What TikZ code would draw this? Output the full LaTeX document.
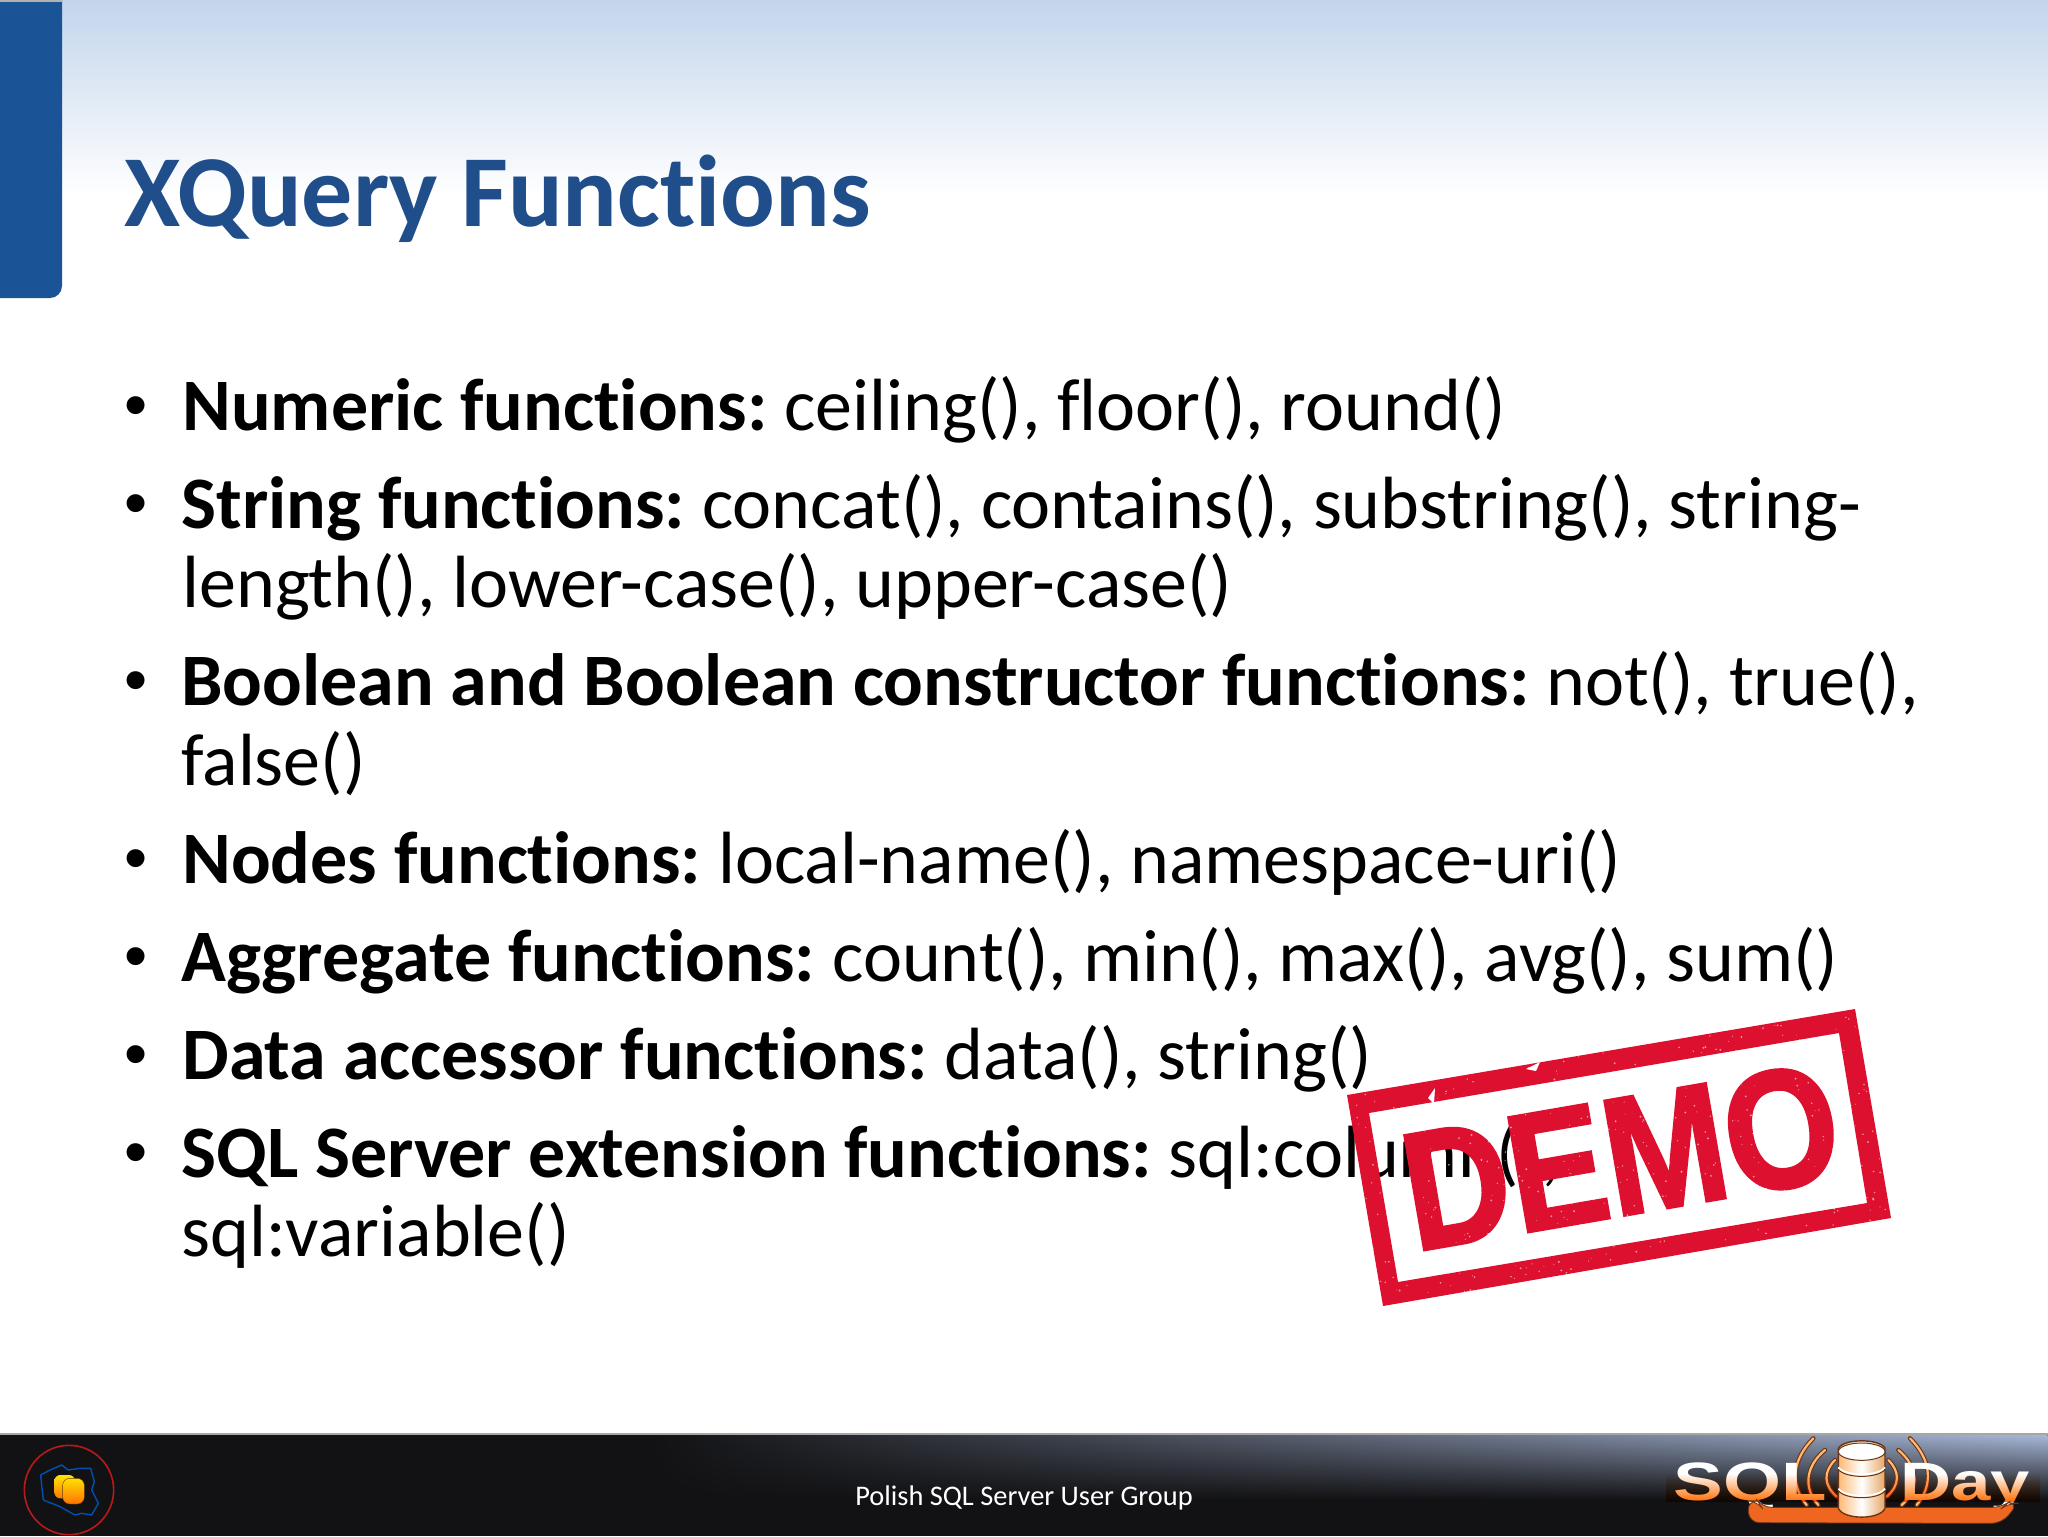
\documentclass[tikz,border=0pt]{standalone}
\usepackage{fontspec}
\usetikzlibrary{fadings}
\setmainfont[Ligatures={NoCommon,NoContextual}]{Carlito}
\newfontfamily\arialish{Liberation Sans}
\newfontfamily\stampfont[FakeBold=2]{Liberation Sans Bold}
\newcommand{\boldlead}[1]{\textbf{#1}\kern-2.6pt\relax}
\definecolor{titleblue}{HTML}{1F4E8A}
\definecolor{barblue}{HTML}{1A5496}
\definecolor{headtop}{HTML}{C3D5EC}
\definecolor{foot}{HTML}{121214}
\definecolor{stampred}{HTML}{DD1030}
\definecolor{swoosh}{HTML}{EE6620}
\definecolor{brownedge}{HTML}{6A3515}
\definecolor{footlight}{HTML}{A8B8D8}
\tikzfading[name=footfade,left color=transparent!100,middle color=transparent!65,right color=transparent!0]
\tikzset{
  body/.style={anchor=base west,inner sep=0pt,text=black,font=\fontsize{37}{44}\selectfont},
  bulletmark/.style={anchor=base,inner sep=0pt,text=black,font=\arialish\fontsize{33}{38}\selectfont},
  arcback/.style={draw=brownedge,line width=2.2pt,line cap=round},
  arcfront/.style={draw=orange!55!white,line width=1.1pt,line cap=round},
  cylpart/.style={draw=brownedge,line width=.7pt,left color=orange!55!white,right color=orange!45!brown!70!white,middle color=white},
}
\begin{document}
\begin{tikzpicture}[x=.5pt,y=-.5pt]
\useasboundingbox (0,0) rectangle (2048,1536);
\fill[white] (0,0) rectangle (2048,1536);
% header
\shade[top color=headtop,bottom color=white!97!headtop] (0,0) rectangle (2048,190);
\fill[barblue,rounded corners=6pt] (-30,-30) rectangle (62,298);
\fill[gray!60] (0,0) rectangle (62,2);
\node[anchor=base west,inner sep=0pt,text=titleblue,font=\fontsize{51}{60}\selectfont\bfseries] (title) at (124,226) {XQuery Functions};
% body
\node[bulletmark] (b1) at (136,427) {•};
\node[body] (l1) at (182,430) {\boldlead{Numeric functions:} ceiling(), floor(), round()};
\node[bulletmark] (b2) at (136,525) {•};
\node[body] (l2) at (181,528) {\boldlead{String functions:} concat(), contains(), substring(), string-};
\node[body] (l2b) at (182,607) {length(), lower-case(), upper-case()};
\node[bulletmark] (b3) at (136,702) {•};
\node[body] (l3) at (181,705) {\boldlead{Boolean and Boolean constructor functions:} not(), true(),};
\node[body] (l3b) at (181,785) {false()};
\node[bulletmark] (b4) at (136,880) {•};
\node[body] (l4) at (182,883) {\boldlead{Nodes functions:} local-name(), namespace-uri()};
\node[bulletmark] (b5) at (136,978) {•};
\node[body] (l5) at (181,981) {\boldlead{Aggregate functions:} count(), min(), max(), avg(), sum()};
\node[bulletmark] (b6) at (136,1076) {•};
\node[body] (l6) at (182,1079) {\boldlead{Data accessor functions:} data(), string()};
\node[bulletmark] (b7) at (136,1174) {•};
\node[body] (l7) at (181,1177) {\boldlead{SQL Server extension functions:} sql:column(),};
\node[body] (l7b) at (181,1256) {sql:variable()};
% footer
\fill[foot] (0,1434) rectangle (2048,1536);
\fill[gray!70] (0,1433) rectangle (2048,1435);
\shade[top color=footlight,middle color=footlight!45!foot,bottom color=foot,path fading=footfade] (650,1435) rectangle (2048,1500);
\node[anchor=base,inner sep=0pt,text=white,font=\fontsize{14.2}{17}\selectfont] (foottext) at (1024,1505) {Polish SQL Server User Group};
% left footer logo
\begin{scope}[shift={(0,1410)},x=.16667pt,y=-.16667pt]
\draw[red!70!black!90!white,line width=.8pt] (207,240) circle (134);
\draw[blue!55!cyan!70!black,line width=.7pt,line join=round] (122,195)--(150,180)--(185,165)--(205,180)--(240,175)--(272,175)--(283,215)--(275,240)--(295,280)--(275,315)--(245,310)--(225,315)--(180,290)--(130,270)--(125,225)--cycle;
\shade[top color=yellow!80!orange,bottom color=orange!95!red,rounded corners=3pt] (163,195) rectangle (225,265);
\shade[draw=brownedge,line width=.2pt,top color=yellow!75!orange,bottom color=orange!90!red,rounded corners=3.5pt] (188,205) rectangle (253,282);
\end{scope}
% SQLDay logo
\begin{scope}[shift={(1600,1410)},x=.16667pt,y=-.16667pt]
\foreach \s in {arcback,arcfront}{
  \draw[\s] (705,150) .. controls (670,185) and (670,225) .. (710,260);
  \draw[\s] (675,120) .. controls (615,170) and (610,235) .. (655,285);
  \draw[\s] (640,85) .. controls (575,150) and (570,225) .. (620,285);
  \draw[\s] (865,150) .. controls (900,185) and (900,225) .. (860,260);
  \draw[\s] (895,120) .. controls (955,170) and (960,235) .. (905,285);
  \draw[\s] (930,85) .. controls (995,150) and (1000,225) .. (950,285);
}
\node[anchor=base west,inner sep=0pt,text=white,font=\arialish\bfseries\fontsize{27}{30}\selectfont] (sqlword) at (220,270) {\scalebox{1.38}[1]{SQL}};
\node[anchor=base west,inner sep=0pt,text=white,font=\arialish\bfseries\fontsize{27}{30}\selectfont] (dayword) at (900,270) {\scalebox{1.31}[1]{Day}};
\begin{scope}[blend mode=multiply]
\shade[top color=white,bottom color=orange!85!red] (200,190) rectangle (1320,275);
\end{scope}
\fill[swoosh,draw=brownedge,line width=.4pt,rounded corners=5pt] (442,272)--(448,338)--(1205,340)--(1255,280)--(1225,278)--(1208,292)--(485,292)--(472,272)--cycle;
\path[cylpart] (715,115) -- (715,295) .. controls (730,330) and (840,330) .. (855,295) -- (855,115) .. controls (840,85) and (730,85) .. (715,115) -- cycle;
\fill[white,draw=brownedge,line width=.5pt] (785,125) ellipse (70 and 26);
\draw[white,line width=.9pt] (715,172) .. controls (735,200) and (835,200) .. (855,172);
\draw[brownedge,line width=.5pt] (715,178) .. controls (735,206) and (835,206) .. (855,178);
\draw[white,line width=.9pt] (715,236) .. controls (735,264) and (835,264) .. (855,236);
\draw[brownedge,line width=.5pt] (715,242) .. controls (735,270) and (835,270) .. (855,242);
\end{scope}
% DEMO stamp
\fill[stampred,even odd rule] (1347,1095)--(1855,1009)--(1891,1218)--(1383,1306)--cycle (1369,1113)--(1839,1033)--(1867,1203)--(1398,1282)--cycle;
\fill[white] (1526,1069)--(1540,1062)--(1536,1071)--cycle;
\fill[white] (1428,1098)--(1435,1088)--(1434,1104)--cycle;
\node[rotate=9.8,inner sep=0pt,text=stampred,font=\stampfont\fontsize{84}{90}\selectfont] (demo) at (1621,1157) {\scalebox{.87}[1]{DEMO}};
\begin{scope}
\clip (1347,1095)--(1855,1009)--(1891,1218)--(1383,1306)--cycle;
\pgfmathsetseed{7}
\foreach \i in {1,...,800}{
  \fill[white,opacity=.55] ({1345+rnd*550},{1005+rnd*305}) circle ({.4+rnd*.7});
}
\end{scope}
\end{tikzpicture}
\end{document}
